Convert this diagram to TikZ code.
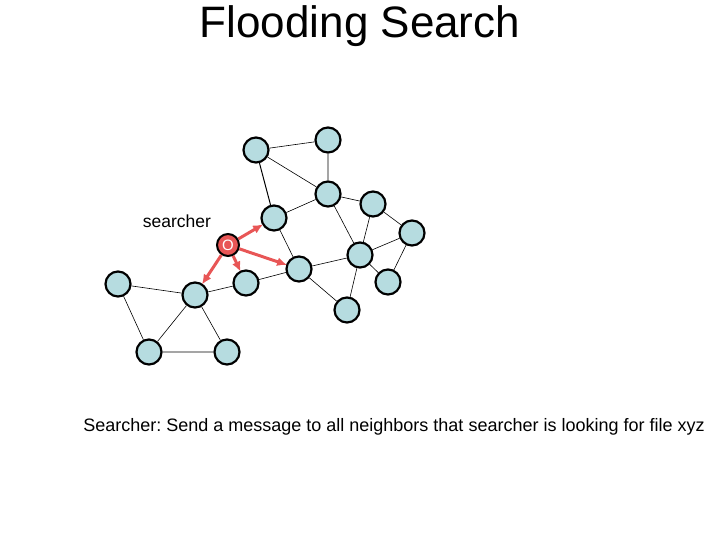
\documentclass[tikz,border=0pt]{standalone}
\usepackage{fontspec}
\setmainfont{Liberation Sans}
\usetikzlibrary{arrows.meta}
\definecolor{peerblue}{RGB}{182,220,224}
\definecolor{floodred}{RGB}{232,86,86}
\frenchspacing

\begin{document}
\begin{tikzpicture}[x=1pt,y=-1pt,>={Latex[length=10pt,width=9pt]},
  peer/.style={circle,draw,line width=2.2pt,fill=peerblue,minimum size=25pt,inner sep=0pt},
  src/.style={circle,draw,line width=2pt,fill=floodred,minimum size=22pt,inner sep=0pt,
    text=white,font=\fontsize{15}{15}\selectfont},
  link/.style={draw,line width=0.6pt},
  flood/.style={->,draw=floodred,line width=3pt,shorten >=-1pt}]
  \useasboundingbox (0,0) rectangle (720,540);
  \node (title) at (360,26) {\fontsize{44}{48}\selectfont Flooding Search};
  % peers
  \node[peer] (a) at (256,150) {};
  \node[peer] (b) at (328,140) {};
  \node[peer] (c) at (328,194) {};
  \node[peer] (d) at (274,218) {};
  \node[peer] (e) at (373,204) {};
  \node[peer] (f) at (412,233) {};
  \node[peer] (h) at (360,255) {};
  \node[peer] (i) at (299,269) {};
  \node[peer] (j) at (246,283) {};
  \node[peer] (k) at (388,282) {};
  \node[peer] (l) at (118,284) {};
  \node[peer] (m) at (195,295) {};
  \node[peer] (n) at (347,310) {};
  \node[peer] (o) at (149,352) {};
  \node[peer] (p) at (227,352) {};
  \node[src] (s) at (228,245) {O};
  \node[font=\fontsize{17.5}{20}\selectfont] (slabel) at (177,221) {searcher};
  % overlay links
  \draw[link] (a) -- (b) (a) -- (c) (b) -- (c) (c) -- (d) (c) -- (e) (c) -- (h)
    (e) -- (h) (e) -- (f) (d) -- (i) (i) -- (h) (h) -- (f) (f) -- (k) (h) -- (k)
    (h) -- (n) (i) -- (n) (j) -- (i) (m) -- (j) (l) -- (m) (l) -- (o) (m) -- (o)
    (m) -- (p) (o) -- (p);
  \draw[link,line width=1pt] (a) -- (d);
  % query flooding
  \draw[flood] (s) -- (d);
  \draw[flood] (s) -- (i);
  \draw[flood] (s) -- (j);
  \draw[flood] (s) -- (m);
  \node[font=\fontsize{18}{20}\selectfont] (note) at (394,427)
    {Searcher: Send a message to all neighbors that searcher is looking for file xyz};
\end{tikzpicture}
\end{document}
